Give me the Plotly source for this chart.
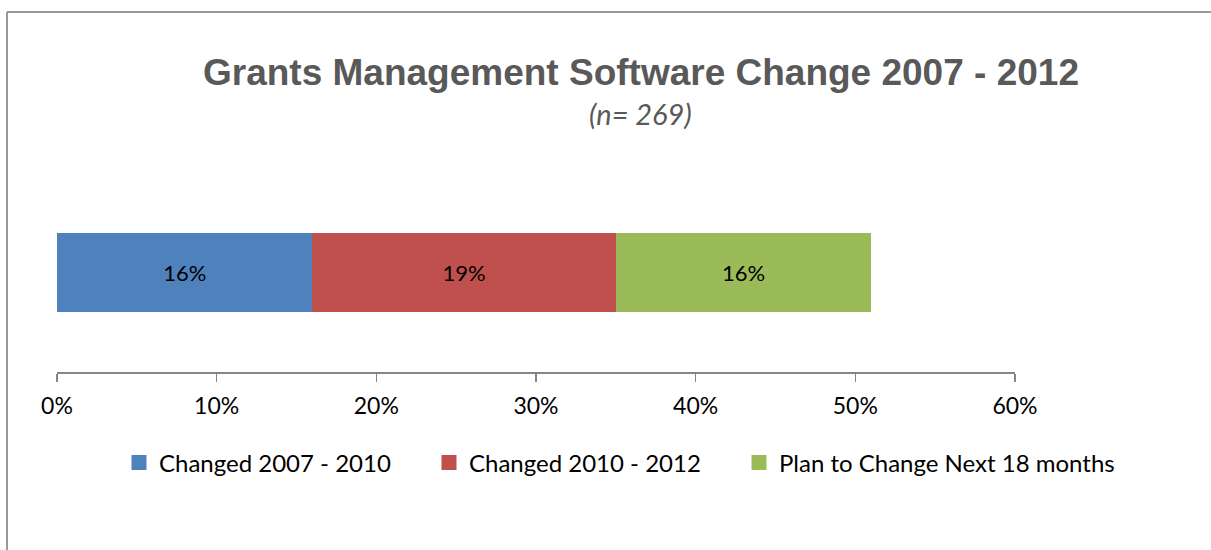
import plotly.graph_objects as go

series = ["Changed 2007 - 2010", "Changed 2010 - 2012", "Plan to Change Next 18 months"]
values = [16, 19, 16]
labels = ["16%", "19%", "16%"]
colors = ["#4F81BD", "#C0504D", "#9BBB59"]
tick_vals = [0, 10, 20, 30, 40, 50, 60]
tick_text = ["0%", "10%", "20%", "30%", "40%", "50%", "60%"]

FONT = "Lato, 'Open Sans', sans-serif"
legend_ids = ["legend", "legend2", "legend3"]
legend_x = [0.0647, 0.3883, 0.7119]

fig = go.Figure()
for name, v, lab, c, lg in zip(series, values, labels, colors, legend_ids):
    fig.add_trace(go.Bar(
        x=[v], y=[0], orientation="h", name=name, showlegend=False,
        marker=dict(color=c, line=dict(width=0)),
        text=[lab], textposition="inside", insidetextanchor="middle",
        textfont=dict(family=FONT, size=22, color="black"),
        width=0.79, hoverinfo="skip",
    ))
    # legend entry with a square swatch the size of the reference's
    fig.add_trace(go.Scatter(
        x=[None], y=[None], mode="markers", name=name, legend=lg, showlegend=True,
        marker=dict(symbol="square", size=15, color=c, line=dict(width=0)),
        hoverinfo="skip",
    ))

legend_style = dict(orientation="h", xanchor="left", y=-0.455, yanchor="middle",
                    font=dict(family=FONT, size=24, color="black"),
                    bgcolor="rgba(0,0,0,0)", itemsizing="trace")

border = dict(color="#999999", width=2)

fig.update_layout(
    barmode="stack",
    width=1211, height=550,
    margin=dict(l=57, r=196, t=172, b=178),
    paper_bgcolor="white", plot_bgcolor="white",
    showlegend=True,
    legend=dict(x=legend_x[0], **legend_style),
    legend2=dict(x=legend_x[1], **legend_style),
    legend3=dict(x=legend_x[2], **legend_style),
    xaxis=dict(range=[0, 60], tickvals=tick_vals, ticktext=tick_text,
               showgrid=False, zeroline=False, showline=True, linecolor="#868686", linewidth=1.5,
               ticks="outside", ticklen=8, tickcolor="#868686", tickwidth=1.5, ticklabelstandoff=5,
               tickfont=dict(family=FONT, size=23, color="black"), fixedrange=True),
    yaxis=dict(range=[-1, 1], visible=False, fixedrange=True),
    annotations=[
        dict(text="<b>Grants Management Software Change 2007 - 2012</b>", xref="paper", yref="paper",
             x=0.6096, y=1.5, xanchor="center", yanchor="middle", showarrow=False,
             font=dict(family="Liberation Sans, Arial, sans-serif", size=37, color="#595959")),
        dict(text="<i>(n= 269)</i>", xref="paper", yref="paper",
             x=0.6086, y=1.295, xanchor="center", yanchor="middle", showarrow=False,
             font=dict(family=FONT, size=29, color="#595959")),
    ],
    shapes=[
        dict(type="line", xref="paper", yref="paper", x0=-0.0522, x1=1.3, y0=1.8, y1=1.8, line=border),
        dict(type="line", xref="paper", yref="paper", x0=-0.0522, x1=-0.0522, y0=1.8, y1=-1.0, line=border),
    ],
)

fig.write_html("out.html", config={"displayModeBar": False, "staticPlot": True})

# remove the browser's default page margin / scrollbars so the figure sits at the window origin
with open("out.html", "r", encoding="utf-8") as f:
    html = f.read()
html = html.replace("<head>", "<head><style>html,body{margin:0;padding:0;overflow:hidden;}</style>", 1)
html = html.replace("<body>", '<body style="margin:0;overflow:hidden">', 1)
with open("out.html", "w", encoding="utf-8") as f:
    f.write(html)
